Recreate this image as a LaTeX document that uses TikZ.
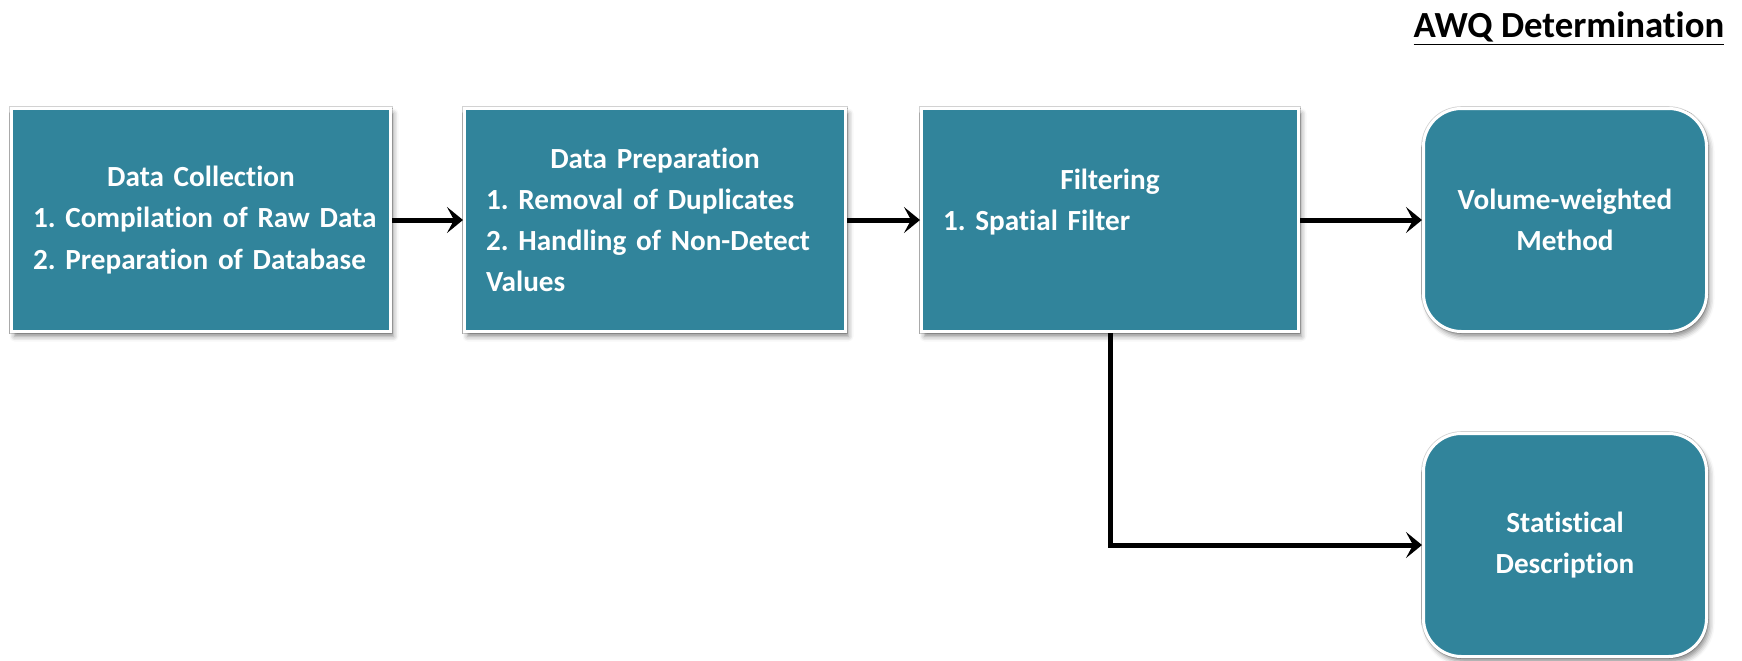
\documentclass[tikz,border=0pt]{standalone}
\usepackage{fontspec}
\setmainfont[Ligatures=NoCommon]{Carlito}
\frenchspacing
\usetikzlibrary{arrows.meta,shadows.blur}
\definecolor{boxteal}{RGB}{49,132,155}

\tikzset{
  stagebox/.style={
    fill=boxteal, draw=white, line width=1.5pt,
    preaction={draw=gray!35, line width=2.3pt},
    blur shadow={shadow xshift=1.5pt, shadow yshift=-2.5pt,
                 shadow blur radius=2.5pt, shadow opacity=45},
    text=white, inner sep=0pt,
    font=\bfseries\fontsize{14.6}{20.6}\selectfont},
  listbox/.style={stagebox, minimum height=111.5pt, align=left},
  resultbox/.style={stagebox, rounded corners=19pt,
    minimum width=141.5pt, minimum height=111.5pt, align=center},
  flow/.style={line width=2.5pt, -{Stealth[length=8pt,width=13pt,inset=3.5pt]}},
}

\begin{document}
\begin{tikzpicture}[x=0.5pt, y=-0.5pt]
  \path[use as bounding box] (0,0) rectangle (1742,660);

  % heading
  \node[anchor=base, inner sep=0pt, font=\bfseries\fontsize{18.4}{22}\selectfont]
    (heading) at (1569,37) {\underline{AWQ Determination}};

  % process stages
  \node[listbox, minimum width=189.5pt, text width=168pt] (collect) at (201,220)
    {\makebox[\linewidth]{Data Collection}\\
     \mbox{1. Compilation of Raw Data}\\
     \mbox{2. Preparation of Database}};

  \node[listbox, minimum width=190.5pt, text width=169pt] (prepare) at (655,220)
    {\makebox[\linewidth]{Data Preparation}\\
     \mbox{1. Removal of Duplicates}\\
     \mbox{2. Handling of Non-Detect}\\
     Values};

  \node[listbox, minimum width=188.5pt, text width=167pt] (filter) at (1110,220)
    {\makebox[\linewidth]{Filtering}\\
     \mbox{1. Spatial Filter}\\
     \mbox{}};

  % outcomes
  \node[resultbox] (volume) at (1565,220) {Volume-weighted\\Method};
  \node[resultbox] (stats) at (1565,545) {Statistical\\Description};

  % connectors
  \draw[flow] (collect.east) -- (prepare.west);
  \draw[flow] (prepare.east) -- (filter.west);
  \draw[flow] (filter.east) -- (volume.west);
  \draw[flow] (filter.south) |- (stats.west);
\end{tikzpicture}
\end{document}
